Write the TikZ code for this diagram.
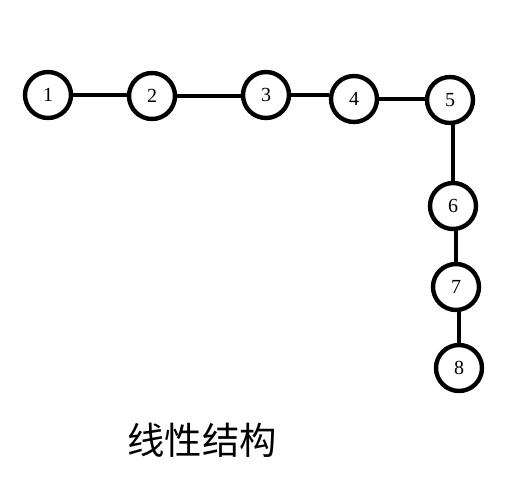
\documentclass[tikz,border=0pt]{standalone}
\usepackage{fontspec}
\setmainfont{Liberation Serif}
\newfontfamily\cjk{Noto Sans CJK SC}

\begin{document}
\begin{tikzpicture}[x=0.75pt, y=-0.75pt,
    vertex/.style={draw, circle, line width=3.3pt, minimum size=34.5pt, inner sep=0pt, font=\fontsize{15}{15}\selectfont},
    edge/.style={line width=3.5pt}]

    \useasboundingbox (0,0) rectangle (525,491);

    % Draw the nodes
    \foreach \n/\x/\y in {1/48/95, 2/152/96, 3/266/95, 4/354/99, 5/450/100, 6/453/206, 7/456/287, 8/459/368} {
      \node[vertex] (v\n) at (\x,\y) {\n};
    }

    % Horizontal part of the chain
    \foreach \a/\b in {1/2, 2/3, 3/4, 4/5} {
      \draw[edge] (v\a) -- (v\a -| v\b.west);
    }

    % Vertical part of the chain
    \foreach \a/\b in {5/6, 6/7, 7/8} {
      \draw[edge] (v\b |- v\a.south) -- (v\b);
    }

    % Caption
    \node[font=\cjk\fontsize{28}{28}\selectfont] (caption) at (202,440) {线性结构};

\end{tikzpicture}
\end{document}
